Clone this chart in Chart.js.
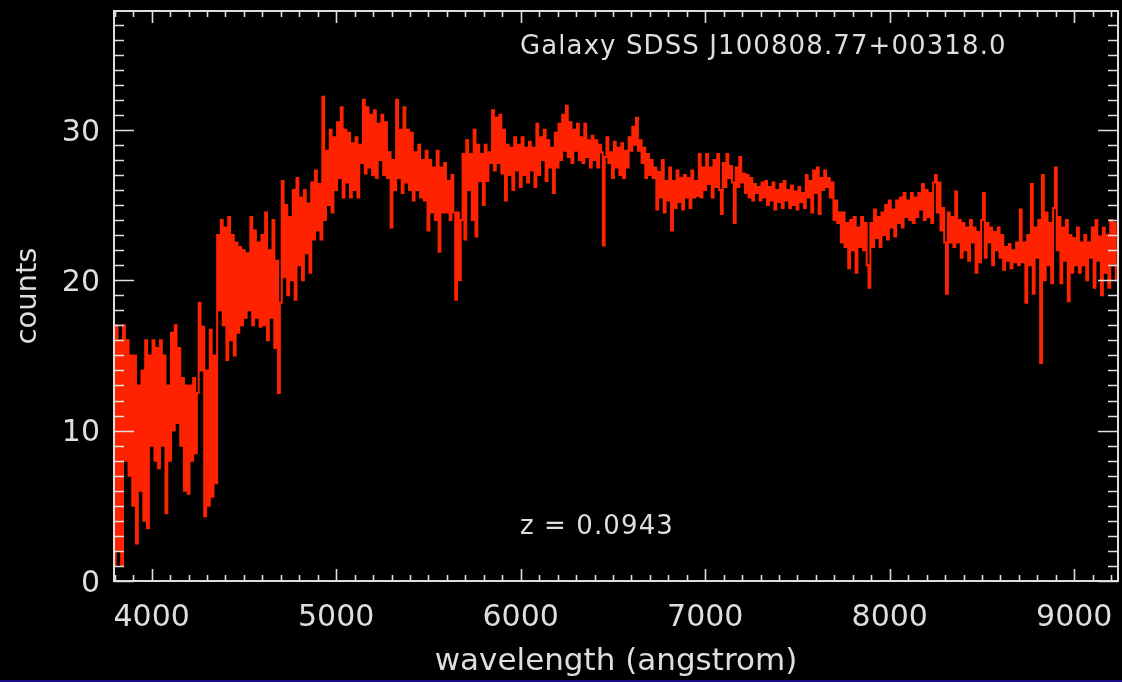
<!DOCTYPE html>
<html>
<head>
<meta charset="utf-8">
<script src="https://cdn.jsdelivr.net/npm/chart.js@4/dist/chart.umd.min.js"></script>
<style>
  html, body { margin: 0; padding: 0; background: #000; }
  #wrap { position: relative; width: 1122px; height: 682px; background: #000; }
  #strip { position: absolute; left: 0; bottom: 0; width: 1122px; height: 2px; background: #1c0c86; }
</style>
</head>
<body>
<div id="wrap">
  <canvas id="spectrum" width="1122" height="682"></canvas>
  <div id="strip"></div>
</div>
<script>
/* ============================
   DATA
============================ */
const titleText = "Galaxy SDSS J100808.77+00318.0";
const redshiftText = "z = 0.0943";

// sampling of the spectrum (angstrom)
const lambdaStart = 3800;
const lambdaStep = 10;

// counts, one row per 100 angstrom
const counts = [
  1, 17, 2, 16, 1, 17, 8, 16, 7, 15,                      // 3800
  5, 15, 2.5, 13, 6, 14, 4, 16, 3.5, 15,                  // 3900
  9, 16, 8, 15.5, 7.5, 16, 9, 15, 4.5, 13,                // 4000
  8, 16.5, 10, 17, 10.5, 15.5, 9, 13.5, 6, 13,            // 4100
  5.8, 13, 8, 13.5, 8.5, 12.5, 18.5, 14, 16.9, 4.3,       // 4200
  14, 5, 16.7, 5.6, 15, 6.5, 23, 18, 24, 17,              // 4300
  23.5, 14.7, 24.2, 16, 23, 15, 22.5, 16.5, 22.2, 17,     // 4400
  22, 17.5, 21.8, 18, 24.2, 17, 23.3, 17.5, 22.5, 16.9,   // 4500
  23, 17, 24.5, 16, 22, 17.5, 24, 15.5, 21.3, 12.5,       // 4600
  18.5, 26.6, 20.2, 25, 19, 24.2, 20, 26, 18.7, 26.8,     // 4700
  21, 25.5, 20, 26, 21.8, 25.1, 20.5, 26.5, 22.7, 27.3,   // 4800
  23.3, 26.4, 22.7, 32.2, 24, 28.6, 25, 30, 24.5, 29.5,   // 4900
  26, 30.5, 26.8, 31.5, 25.5, 30, 26.5, 29.8, 25.5, 29.1, // 5000
  26, 29.5, 25.5, 29, 27.8, 32, 27.1, 31.5, 27.5, 31,     // 5100
  27, 31.3, 26.8, 30.4, 28, 31, 27, 30.5, 26.8, 28.5,     // 5200
  23.5, 28, 26, 32, 26.8, 30, 25.8, 31.5, 26.5, 30,       // 5300
  26, 29.8, 25.3, 28.5, 26, 29, 25.5, 28, 25.3, 28.6,     // 5400
  23.3, 28, 24.5, 27.5, 24, 28.6, 21.9, 27.5, 24.5, 27.8, // 5500
  24.5, 26.6, 24, 27, 24.5, 18.7, 24.5, 20, 24, 28.4,     // 5600
  22.7, 29.3, 26, 28.4, 24, 30, 22.9, 29, 26.6, 28.4,     // 5700
  25, 29, 26.6, 28.5, 27.8, 31.3, 27.3, 30.8, 27.8, 31,   // 5800
  27.1, 30, 25.3, 29, 27, 28.8, 26, 29.5, 27.3, 29,       // 5900
  26.2, 29.5, 27, 28.8, 26.5, 29.2, 27.3, 28.8, 26.2, 30.4, // 6000
  27, 29.5, 28, 30, 26.6, 29.3, 27.5, 28.8, 25.8, 29.8,   // 6100
  27.5, 30.4, 28, 31, 28.6, 31.6, 28.2, 30.5, 27.8, 30,   // 6200
  28.6, 30.4, 28, 29.5, 27.8, 30.4, 28.2, 29.3, 27.5, 29.6, // 6300
  28, 29.3, 27.5, 29, 28.5, 22.3, 28.2, 29.5, 27.8, 28.5, // 6400
  26.8, 29.2, 27.5, 28.8, 27, 29.1, 26.8, 28.6, 27.5, 29.5, // 6500
  28.6, 30.2, 29, 30.8, 28.6, 29.3, 27.8, 28.8, 26.8, 28.4, // 6600
  27, 28, 26.8, 27.5, 24.7, 27.2, 25.5, 28, 24.5, 26.6,   // 6700
  25.3, 27.5, 23.3, 26.6, 24.8, 27.3, 25.2, 26.8, 24.7, 27, // 6800
  25.5, 26.8, 24.8, 27.3, 25.5, 26.6, 25.6, 28.4, 25.5, 27.5, // 6900
  26, 28.4, 26.4, 27.5, 25.5, 28, 26.2, 28.4, 26, 24.4,   // 7000
  27.8, 26.2, 28.4, 26.8, 27.6, 26.5, 23.8, 27.5, 26.2, 28.2, // 7100
  26.5, 27.1, 25.8, 27, 25.5, 26.8, 25.3, 26.4, 25.8, 26.2, // 7200
  25.3, 26.5, 25.5, 26.6, 25, 26.2, 25.3, 26.5, 24.7, 26, // 7300
  25.2, 26.4, 24.8, 26.6, 25.3, 26, 24.8, 26.3, 25, 25.9, // 7400
  24.7, 26.2, 25.2, 25.8, 24.8, 27, 25.5, 26.6, 24.5, 27.3, // 7500
  25.8, 27.5, 24.4, 26.8, 26, 27.3, 26.2, 26.8, 25.5, 26.5, // 7600
  24, 25.3, 23.8, 24.5, 22.5, 24.5, 22.2, 23.8, 20.8, 24, // 7700
  22, 24.2, 20.5, 23.5, 22.2, 24.2, 22, 23.8, 21, 19.5,   // 7800
  23.8, 22.2, 24.7, 22.8, 24.2, 22.2, 24.5, 23, 25, 22.7, // 7900
  25.3, 23.5, 24.7, 22.9, 25.3, 23.8, 25.5, 23.5, 25.8, 24.2, // 8000
  25.3, 24, 25.8, 23.8, 25.5, 24.2, 25.8, 24.7, 26.4, 24, // 8100
  26, 24.2, 25.8, 23.8, 26.5, 27, 24.5, 26.5, 23.3, 24.8, // 8200
  22.5, 19.1, 24.5, 22.5, 24.2, 22.2, 25.9, 22.5, 24, 21.5, // 8300
  23.8, 22, 23.5, 21.3, 24, 22.5, 23.5, 20.5, 23.2, 21.2, // 8400
  24, 25.8, 21.5, 23.8, 22.5, 23.5, 21, 23.2, 22, 23.5,   // 8500
  21.5, 23, 20.7, 22.2, 21.3, 22.4, 20.8, 22, 21.2, 22.5, // 8600
  21, 24.7, 21.2, 22.5, 18.5, 23, 21, 26.4, 19.1, 23.5,   // 8700
  21.5, 24, 14.5, 27, 20, 24.5, 21, 23.8, 19.8, 24.8,     // 8800
  27.5, 22, 24.2, 19.8, 23.5, 21.3, 24, 18.6, 23, 20.5,   // 8900
  22.8, 21, 23.5, 20.5, 22.5, 21, 23, 20, 22.5, 21.5,     // 9000
  23.5, 19.5, 24, 21.3, 22.9, 19, 23.5, 20.5, 23, 19.5,   // 9100
  24, 21, 23.8, 20                                        // 9200
];

const wavelengths = counts.map((_, i) => lambdaStart + i * lambdaStep);

const xTickValues = [4000, 5000, 6000, 7000, 8000, 9000];
const yTickValues = [0, 10, 20, 30];

/* ============================
   PLUGIN: IDL-STYLE BOX & TICKS
============================ */
const axisColor = "#dedede";

const idlBox = {
    id: "idlBox",
    afterDatasetsDraw(chart) {
        const { ctx, chartArea: a, scales: { x, y } } = chart;
        ctx.save();
        ctx.strokeStyle = axisColor;

        // minor + major ticks, pointing inward on all four sides
        ctx.lineWidth = 1.6;
        ctx.beginPath();
        for (let v = 3800; v <= x.max; v += 100) {
            if (v < x.min) continue;
            const px = Math.round(x.getPixelForValue(v)) + 0.5;
            const len = v % 1000 === 0 ? 12 : 6;
            ctx.moveTo(px, a.bottom); ctx.lineTo(px, a.bottom - len);
            ctx.moveTo(px, a.top); ctx.lineTo(px, a.top + len);
        }
        for (let v = 0; v <= y.max; v += 1) {
            const py = Math.round(y.getPixelForValue(v)) + 0.5;
            const len = v % 10 === 0 ? 20 : 10;
            ctx.moveTo(a.left, py); ctx.lineTo(a.left + len, py);
            ctx.moveTo(a.right, py); ctx.lineTo(a.right - len, py);
        }
        ctx.stroke();

        // frame
        ctx.lineWidth = 2;
        ctx.strokeRect(a.left, a.top, a.right - a.left, a.bottom - a.top);

        // annotations inside the plot
        ctx.fillStyle = axisColor;
        ctx.font = "26px 'DejaVu Sans'";
        ctx.letterSpacing = "1.1px";
        ctx.textBaseline = "middle";
        ctx.textAlign = "left";
        ctx.fillText(titleText, 520, 47);
        ctx.fillText(redshiftText, 520, 527);
        ctx.restore();
    }
};

/* ============================
   CHART
============================ */
Chart.defaults.font.family = "'DejaVu Sans'";
Chart.defaults.color = axisColor;

new Chart(document.getElementById("spectrum"), {
    type: "line",
    data: {
        datasets: [{
            label: "counts",
            data: wavelengths.map((w, i) => ({ x: w, y: counts[i] })),
            borderColor: "#ff2200",
            borderWidth: 2,
            pointRadius: 0,
            stepped: "middle"
        }]
    },
    options: {
        responsive: false,
        animation: false,
        events: [],
        layout: { padding: { top: 11, right: 4, bottom: 0, left: 0 } },
        plugins: { legend: { display: false }, tooltip: { enabled: false } },
        scales: {
            x: {
                type: "linear",
                min: 3796,
                max: 9237,
                grid: { display: false, drawTicks: false },
                border: { display: false },
                afterBuildTicks: s => { s.ticks = xTickValues.map(v => ({ value: v })); },
                afterFit: s => { s.height = 101; s.paddingLeft = 0; s.paddingRight = 0; },
                ticks: {
                    color: axisColor,
                    padding: 19,
                    maxRotation: 0,
                    callback: v => String(v),
                    font: { size: 30 }
                },
                title: {
                    display: true,
                    text: "wavelength (angstrom)",
                    color: axisColor,
                    padding: { top: 1, bottom: 1 },
                    font: { size: 31 }
                }
            },
            y: {
                min: 0,
                max: 37.9,
                grid: { display: false, drawTicks: false },
                border: { display: false },
                afterBuildTicks: s => { s.ticks = yTickValues.map(v => ({ value: v })); },
                afterFit: s => { s.width = 114; s.paddingTop = 0; s.paddingBottom = 0; },
                ticks: {
                    color: axisColor,
                    padding: 14,
                    labelOffset: 3,
                    callback: v => String(v),
                    font: { size: 30 }
                },
                title: {
                    display: true,
                    text: "counts",
                    color: axisColor,
                    padding: { top: 11, bottom: 11 },
                    font: { size: 29 }
                }
            }
        }
    },
    plugins: [idlBox]
});
</script>
</body>
</html>
